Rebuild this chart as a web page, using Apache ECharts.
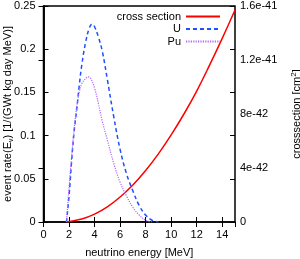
<!DOCTYPE html>
<html><head><meta charset="utf-8">
<script src="https://cdn.jsdelivr.net/npm/echarts@6/dist/echarts.min.js"></script>
<style>html,body{margin:0;padding:0;background:#fff}#c{width:300px;height:259px}</style>
</head><body><div id="c"></div>
<script>
// neutrino energy [MeV] and values
const csEnergy = [1.8, 2, 3, 4, 5, 6, 7, 8, 9, 10, 11, 12, 13, 14, 15];
const csValue  = [0, 0.04, 0.22, 0.58, 1.12, 1.85, 2.74, 3.82, 5.05, 6.45, 8.0, 9.7, 11.6, 13.6, 15.7]; // units of 1e-42 cm^2
const uEnergy  = [1.8, 2.0, 2.2, 2.4, 2.6, 2.8, 3.0, 3.3, 3.6, 3.8, 4.0, 4.3, 4.6, 5.0, 5.5, 6.0, 6.5, 7.0, 7.5, 8.0, 8.5, 9.0];
const uValue   = [0, 0.03, 0.07, 0.105, 0.13, 0.158, 0.182, 0.208, 0.225, 0.229, 0.226, 0.214, 0.198, 0.165, 0.122, 0.084, 0.056, 0.036, 0.019, 0.008, 0.002, 0];
const puEnergy = [1.8, 2.0, 2.2, 2.4, 2.6, 2.8, 3.0, 3.3, 3.5, 3.7, 4.0, 4.3, 4.6, 5.0, 5.5, 6.0, 6.5, 7.0, 7.5, 8.0, 8.5];
const puValue  = [0, 0.04, 0.075, 0.108, 0.133, 0.15, 0.16, 0.166, 0.168, 0.166, 0.155, 0.137, 0.117, 0.095, 0.068, 0.046, 0.03, 0.017, 0.008, 0.002, 0];
const seriesNames = ['cross section', 'U', 'Pu'];
const rightTickLabels = {0: '0', 4: '4e-42', 8: '8e-42', 12: '1.2e-41', 16: '1.6e-41'};

const zip = (a, b) => a.map((x, i) => [x, b[i]]);
const FONT = 'Liberation Sans';
const txt = {fontFamily: FONT, fontSize: 11, color: '#000'};
const tickIn = {show: true, inside: true, length: 5, lineStyle: {color: '#000', width: 1}};
const chart = echarts.init(document.getElementById('c'));
chart.setOption({
  animation: false,
  grid: {left: 43.5, right: 65, top: 6, bottom: 37, show: true, borderColor: '#000', borderWidth: 1.5,
         containLabel: false, outerBoundsMode: 'none'},
  legend: seriesNames.map((n, i) => ({
    data: [n], right: 79, top: 11 + i * 12.5, align: 'right', orient: 'vertical',
    itemWidth: 34, itemHeight: 10, itemGap: 0, padding: 0,
    itemStyle: {opacity: 0}, textStyle: Object.assign({}, txt), selectedMode: false
  })),
  xAxis: [
    {type: 'value', min: 0, max: 15, interval: 2, position: 'bottom',
     name: 'neutrino energy [MeV]', nameLocation: 'middle', nameGap: 25, nameMoveOverlap: false, nameTextStyle: txt,
     axisLine: {show: true, lineStyle: {color: '#000', width: 1.5}}, axisTick: tickIn,
     axisLabel: Object.assign({margin: 7, showMaxLabel: false}, txt), splitLine: {show: false}},
    {type: 'value', min: 0, max: 15, interval: 2, position: 'top',
     axisLine: {show: false}, axisTick: tickIn, axisLabel: {show: false}, splitLine: {show: false}}
  ],
  yAxis: [
    {type: 'value', min: 0, max: 0.25, interval: 0.05, position: 'left',
     name: 'event rate(E{s|ν}) [1/(GWt kg day MeV)]', nameLocation: 'middle', nameGap: 29, nameRotate: 90, nameMoveOverlap: false,
     nameTextStyle: Object.assign({rich: {s: {fontFamily: FONT, fontSize: 7, verticalAlign: 'bottom', padding: [6, 0, 0, 0]}}}, txt),
     axisLine: {show: true, lineStyle: {color: '#000', width: 1.5}}, axisTick: tickIn,
     axisLabel: Object.assign({margin: 8}, txt), splitLine: {show: false}},
    {type: 'value', min: 0, max: 16, interval: 4, position: 'right',
     name: 'crosssection [cm{p|2}]', nameLocation: 'middle', nameGap: 55, nameRotate: 90, nameMoveOverlap: false,
     nameTextStyle: Object.assign({rich: {p: {fontFamily: FONT, fontSize: 8, verticalAlign: 'top', padding: [0, 0, 6, 0]}}}, txt),
     axisLine: {show: true, lineStyle: {color: '#000', width: 1.5}}, axisTick: tickIn,
     axisLabel: Object.assign({margin: 5, formatter: v => rightTickLabels[v] !== undefined ? rightTickLabels[v] : ''}, txt),
     splitLine: {show: false}},
    {type: 'value', min: 0, max: 0.25, interval: 0.05, position: 'right',
     axisLine: {show: false}, axisTick: tickIn, axisLabel: {show: false}, splitLine: {show: false}}
  ],
  series: [
    {name: seriesNames[0], type: 'line', yAxisIndex: 1, data: zip(csEnergy, csValue), smooth: 0.4,
     symbol: 'none', lineStyle: {color: '#ff0000', width: 1.5}, itemStyle: {color: '#ff0000'}},
    {name: seriesNames[1], type: 'line', yAxisIndex: 0, data: zip(uEnergy, uValue), smooth: 0.4,
     symbol: 'none', lineStyle: {color: '#1f4fff', width: 1.5, type: [4, 3]}, itemStyle: {color: '#1f4fff'}},
    {name: seriesNames[2], type: 'line', yAxisIndex: 0, data: zip(puEnergy, puValue), smooth: 0.4,
     symbol: 'none', lineStyle: {color: '#b366ff', width: 1.2, type: [1.2, 1.2]}, itemStyle: {color: '#b366ff'}}
  ]
});
</script></body></html>
